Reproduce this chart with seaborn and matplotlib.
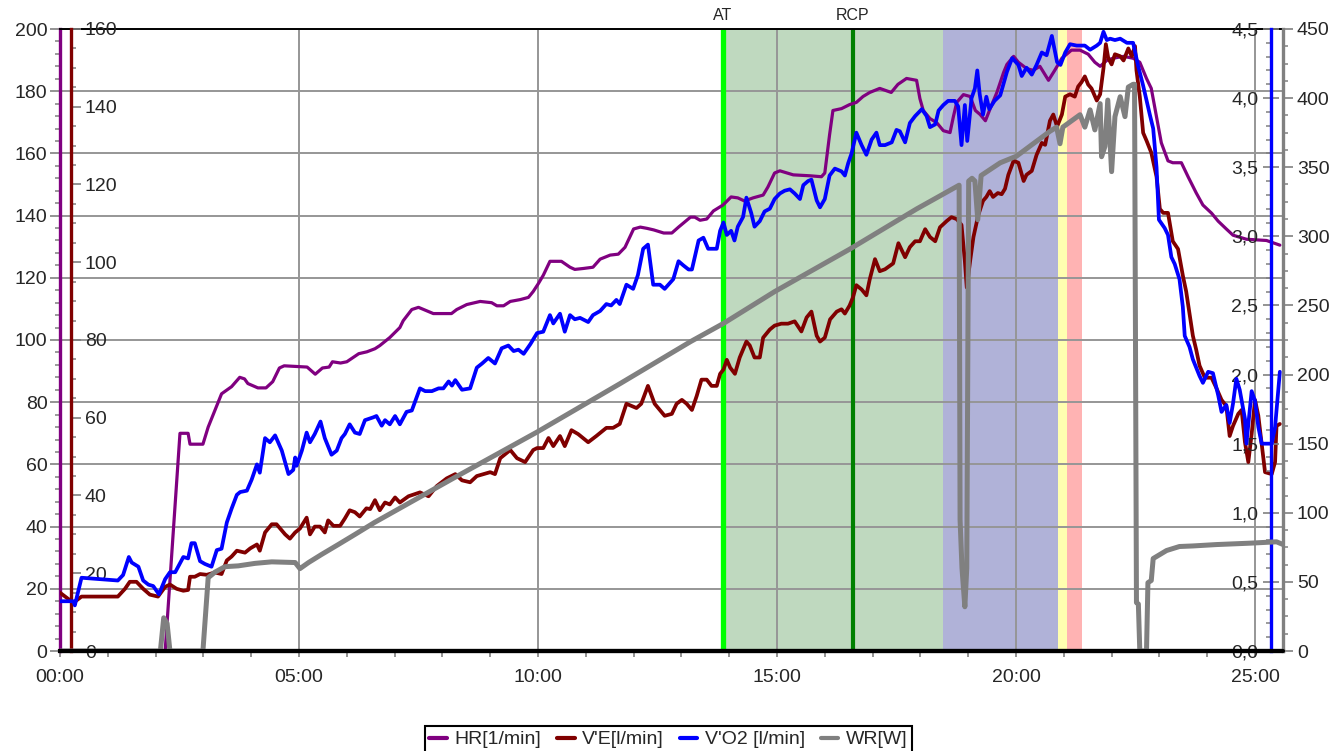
import numpy as np
import matplotlib
matplotlib.use("Agg")
import matplotlib.pyplot as plt
import matplotlib.transforms as mtransforms
from matplotlib.lines import Line2D
from matplotlib.ticker import MultipleLocator, FuncFormatter
import seaborn as sns

# ---------------- data (time in minutes) ----------------
hr_t = [0, 2.2, 2.51, 2.68, 2.72, 2.99, 3.1, 3.38, 3.59, 3.76, 3.86, 3.93, 4.14, 4.31, 4.45, 4.59,
        4.69, 5.17, 5.34, 5.49, 5.63, 5.7, 5.87, 6.0, 6.25, 6.42, 6.59, 6.69, 6.9, 7.11, 7.18, 7.36,
        7.5, 7.81, 8.19, 8.3, 8.51, 8.79, 9.03, 9.14, 9.28, 9.42, 9.63, 9.8, 9.9, 10.01, 10.11,
        10.25, 10.49, 10.67, 10.77, 10.95, 11.15, 11.3, 11.51, 11.68, 11.82, 12.0, 12.14, 12.28,
        12.42, 12.63, 12.8, 12.94, 13.19, 13.28, 13.39, 13.53, 13.67, 13.87, 14.04, 14.18, 14.32,
        14.5, 14.71, 14.81, 14.95, 15.06, 15.34, 15.69, 15.93, 16.0, 16.1, 16.17, 16.35, 16.52,
        16.66, 16.8, 16.94, 17.15, 17.39, 17.53, 17.71, 17.92, 17.99, 18.06, 18.2, 18.34, 18.48,
        18.62, 18.69, 18.76, 18.9, 19.04, 19.15, 19.25, 19.36, 19.46, 19.6, 19.74, 19.81, 19.95,
        20.05, 20.22, 20.36, 20.5, 20.68, 20.81, 20.96, 21.16, 21.34, 21.51, 21.65, 21.76, 21.9,
        22.03, 22.25, 22.45, 22.59, 22.73, 22.83, 22.94, 23.04, 23.18, 23.28, 23.46, 23.6, 23.77,
        23.91, 24.09, 24.23, 24.4, 24.54, 24.82, 25.24, 25.52]
hr_v = [0, 0, 70, 70, 66.5, 66.5, 72, 82.7, 85, 88, 87.5, 86, 84.6, 84.6, 86.6, 91,
        91.7, 91.3, 89, 91, 91.3, 93, 92.6, 93, 95.6, 96.2, 97.2, 98.2, 100.8, 104, 106.2, 109.8,
        110.5, 108.5, 108.5, 109.8, 111.4, 112.4, 112, 111, 111, 112.4, 113, 113.7, 115.6, 118.2, 120.8,
        125.3, 125.3, 123.4, 122.7, 123, 123.4, 126, 127.3, 127.6, 129.8, 135.7, 136.3, 135.9,
        135.4, 134.4, 134.4, 136.3, 139.5, 139.5, 138.5, 138.9, 141.5, 143.4, 146, 145.7, 144.7,
        145.7, 146.6, 149.2, 153.7, 154.4, 153.1, 152.8, 152.5, 153.7, 166, 173.8, 174.4, 175.7,
        176.4, 178.3, 179.6, 180.9, 179.6, 182.2, 184.1, 183.5, 177.6, 173.8, 171.2, 169.9, 167.3,
        166.7, 171.8, 176.4, 178.9, 178.3, 173.8, 172.5, 170.5, 174.4, 179.6, 186, 188.6, 191.2,
        189.3, 187.3, 186.7, 188, 183.5, 186.7, 190.6, 193.2, 193.2, 191.9, 189.3, 188, 189.9,
        190.6, 191.2, 190.6, 189.3, 184.1, 180.9, 171.8, 163.4, 157.6, 157, 157, 152.5, 147.3,
        143.4, 140.8, 138.2, 135.7, 133.7, 132.4, 132, 130.5]

ve_t = [0, 0.28, 0.45, 1.21, 1.36, 1.46, 1.6, 1.74, 1.88, 2.05, 2.2, 2.3, 2.44, 2.58, 2.68, 2.72,
        2.82, 2.93, 3.07, 3.24, 3.38, 3.49, 3.59, 3.7, 3.87, 3.98, 4.12, 4.18, 4.29, 4.43, 4.53,
        4.71, 4.81, 4.92, 5.02, 5.16, 5.23, 5.33, 5.44, 5.54, 5.61, 5.72, 5.86, 5.96, 6.06, 6.17,
        6.27, 6.41, 6.49, 6.59, 6.69, 6.8, 6.9, 7.01, 7.11, 7.29, 7.53, 7.71, 7.88, 8.09, 8.27,
        8.41, 8.58, 8.72, 9.0, 9.1, 9.21, 9.42, 9.56, 9.73, 9.9, 9.98, 10.11, 10.22, 10.32, 10.46,
        10.56, 10.7, 10.84, 11.05, 11.22, 11.43, 11.57, 11.71, 11.85, 12.06, 12.16, 12.3, 12.44,
        12.65, 12.8, 12.9, 13.01, 13.11, 13.22, 13.32, 13.42, 13.53, 13.63, 13.74, 13.81, 13.88,
        13.95, 14.02, 14.12, 14.22, 14.36, 14.43, 14.53, 14.64, 14.71, 14.85, 14.95, 15.09, 15.23,
        15.37, 15.51, 15.62, 15.72, 15.83, 15.9, 16.0, 16.11, 16.25, 16.35, 16.42, 16.52, 16.59,
        16.66, 16.77, 16.87, 16.94, 17.05, 17.15, 17.26, 17.43, 17.54, 17.68, 17.78, 17.89, 17.99,
        18.1, 18.2, 18.31, 18.41, 18.55, 18.65, 18.76, 18.86, 18.93, 18.97, 19.04, 19.11, 19.21,
        19.31, 19.38, 19.45, 19.52, 19.62, 19.7, 19.77, 19.84, 19.95, 20.05, 20.16, 20.22, 20.33,
        20.43, 20.54, 20.61, 20.71, 20.78, 20.86, 20.96, 21.03, 21.13, 21.23, 21.3, 21.37, 21.44,
        21.51, 21.58, 21.69, 21.76, 21.83, 21.88, 21.93, 22.0, 22.07, 22.18, 22.25, 22.35, 22.42,
        22.49, 22.52, 22.59, 22.66, 22.73, 22.83, 22.94, 23.01, 23.08, 23.18, 23.28, 23.39, 23.49,
        23.56, 23.63, 23.7, 23.77, 23.84, 23.95, 24.09, 24.19, 24.3, 24.4, 24.47, 24.54, 24.65,
        24.72, 24.79, 24.86, 24.93, 25.0, 25.07, 25.14, 25.21, 25.35, 25.42, 25.45, 25.52]
ve_v = [15.0, 12.4, 14.0, 14.0, 16.0, 17.8, 17.8, 16.0, 14.5, 14.0, 16.5, 17.1, 16.0, 15.5, 15.7, 19.1,
        19.1, 19.8, 19.6, 20.2, 19.8, 23.3, 24.3, 25.8, 25.3, 26.4, 27.4, 25.8, 30.5, 32.6, 32.6,
        30.0, 28.9, 30.5, 31.5, 34.3, 30.0, 32.0, 32.0, 30.5, 33.6, 32.2, 32.2, 34.1, 36.2, 35.7,
        34.6, 36.7, 36.5, 38.8, 36.2, 38.2, 37.7, 39.5, 38.2, 39.8, 40.8, 39.8, 42.4, 44.4, 45.5,
        43.9, 43.4, 45.0, 46.0, 45.5, 49.6, 51.7, 49.6, 48.6, 51.7, 52.2, 52.2, 54.8, 52.7, 55.3,
        52.7, 56.8, 55.8, 53.7, 55.3, 57.4, 57.4, 58.4, 63.6, 62.5, 63.6, 68.2, 63.6,
        60.5, 61.0, 63.6, 64.6, 63.6, 62.0, 65.6, 69.8, 69.8, 68.2, 68.2, 71.3, 72.4,
        74.9, 72.9, 71.3, 75.5, 79.6, 78.6, 75.5, 75.5, 80.6, 82.7, 83.7, 84.2, 84.2,
        84.8, 82.2, 85.8, 87.3, 81.1, 79.6, 80.6, 85.3, 87.3, 87.9, 86.8, 88.9, 91.0,
        94.1, 93.0, 91.5, 95.6, 100.8, 97.7, 98.2, 99.7, 104.9, 101.3, 103.9, 105.4, 105.4,
        108.5, 106.5, 105.4, 109.0, 110.6, 111.6, 111.1, 109.6, 100.3, 93.5, 100.3, 106.5, 112.1,
        115.8, 116.8, 118.3, 116.8, 117.8, 117.5, 118.9, 122.5, 126.1, 125.6, 120.9, 122.5, 123.5,
        127.6, 130.7, 130.2, 136.4, 138.0, 134.9, 138.0, 142.6, 143.2, 142.6, 145.2, 146.3, 147.8,
        145.7, 144.7, 141.6, 143.2, 149.9, 156.1, 152.5, 150.9, 153.5, 153.0, 151.9, 155.0, 153.0,
        155.6, 149.4, 142.6, 133.3, 131.3, 128.2, 122.0, 113.7, 112.7, 112.7, 105.4, 103.4, 96.6,
        92.5, 86.8, 81.1, 77.5, 73.4, 70.3, 70.3, 67.7, 64.6, 63.0, 55.3, 57.9, 61.0,
        62.0, 53.7, 48.6, 55.8, 64.6, 60.5, 53.2, 46.0, 45.5, 48.6, 57.9, 58.4]

vo2_t = [0, 0.28, 0.31, 0.45, 1.21, 1.32, 1.44, 1.5, 1.64, 1.74, 1.85, 1.95, 2.07, 2.2, 2.3, 2.41,
         2.58, 2.68, 2.75, 2.82, 2.93, 3.03, 3.17, 3.28, 3.38, 3.49, 3.59, 3.7, 3.77, 3.91, 4.01,
         4.12, 4.18, 4.29, 4.39, 4.5, 4.64, 4.78, 4.88, 4.92, 4.95, 5.06, 5.16, 5.23, 5.33, 5.45,
         5.54, 5.68, 5.79, 5.89, 5.96, 6.06, 6.17, 6.27, 6.38, 6.55, 6.62, 6.73, 6.8, 6.9, 7.01,
         7.11, 7.25, 7.36, 7.53, 7.64, 7.78, 7.92, 8.02, 8.13, 8.2, 8.27, 8.41, 8.58, 8.72, 8.83,
         8.96, 9.1, 9.24, 9.38, 9.49, 9.59, 9.7, 9.84, 9.98, 10.11, 10.25, 10.32, 10.46, 10.56,
         10.67, 10.77, 10.88, 11.05, 11.15, 11.3, 11.43, 11.53, 11.64, 11.71, 11.85, 11.99, 12.09,
         12.2, 12.3, 12.41, 12.55, 12.65, 12.83, 12.94, 13.04, 13.15, 13.22, 13.36, 13.46, 13.56,
         13.74, 13.81, 13.88, 13.95, 14.04, 14.11, 14.18, 14.29, 14.36, 14.46, 14.53, 14.64, 14.74,
         14.85, 14.95, 15.06, 15.16, 15.27, 15.37, 15.48, 15.55, 15.65, 15.72, 15.83, 15.9, 16.0,
         16.1, 16.21, 16.35, 16.42, 16.49, 16.56, 16.66, 16.77, 16.87, 16.98, 17.08, 17.15, 17.26,
         17.4, 17.5, 17.57, 17.68, 17.78, 17.89, 18.03, 18.13, 18.2, 18.31, 18.38, 18.48, 18.58,
         18.72, 18.79, 18.86, 18.93, 18.98, 19.07, 19.14, 19.19, 19.24, 19.31, 19.38, 19.44, 19.55,
         19.67, 19.81, 19.92, 20.05, 20.12, 20.22, 20.33, 20.43, 20.54, 20.64, 20.75, 20.86, 20.93,
         21.03, 21.13, 21.27, 21.44, 21.55, 21.69, 21.76, 21.83, 21.9, 21.97, 22.07, 22.18, 22.32,
         22.45, 22.55, 22.66, 22.8, 22.87, 22.94, 22.99, 23.11, 23.18, 23.25, 23.32, 23.42, 23.49,
         23.53, 23.63, 23.7, 23.84, 23.91, 24.02, 24.12, 24.23, 24.3, 24.4, 24.47, 24.54, 24.61,
         24.68, 24.79, 24.82, 24.93, 25.0, 25.07, 25.14, 25.35, 25.42, 25.52]
vo2_v = [0.36, 0.36, 0.33, 0.53, 0.51, 0.55, 0.68, 0.64, 0.61, 0.51, 0.48, 0.47, 0.41, 0.52, 0.57, 0.57,
         0.68, 0.67, 0.78, 0.78, 0.65, 0.63, 0.61, 0.73, 0.74, 0.93, 1.03, 1.13, 1.15, 1.16, 1.24,
         1.35, 1.29, 1.54, 1.51, 1.56, 1.45, 1.28, 1.31, 1.40, 1.34, 1.45, 1.58, 1.51, 1.57, 1.66,
         1.54, 1.42, 1.45, 1.54, 1.57, 1.64, 1.58, 1.57, 1.67, 1.69, 1.70, 1.63, 1.67, 1.64, 1.70,
         1.64, 1.73, 1.74, 1.90, 1.88, 1.88, 1.90, 1.90, 1.95, 1.92, 1.96, 1.89, 1.90, 2.05, 2.08,
         2.12, 2.08, 2.19, 2.21, 2.17, 2.18, 2.15, 2.22, 2.30, 2.31, 2.43, 2.37, 2.44, 2.31,
         2.43, 2.40, 2.41, 2.38, 2.43, 2.46, 2.51, 2.50, 2.54, 2.51, 2.65, 2.62, 2.72,
         2.91, 2.94, 2.65, 2.65, 2.62, 2.69, 2.82, 2.79, 2.76, 2.76, 2.97, 2.99, 2.91,
         2.91, 3.04, 3.10, 3.01, 3.04, 2.97, 3.07, 3.14, 3.28, 3.17, 3.07, 3.11, 3.18,
         3.20, 3.27, 3.31, 3.33, 3.34, 3.31, 3.27, 3.37, 3.40, 3.41, 3.26, 3.21, 3.27,
         3.44, 3.49, 3.47, 3.44, 3.53, 3.60, 3.75, 3.66, 3.59, 3.70, 3.75, 3.66, 3.66,
         3.68, 3.77, 3.76, 3.68, 3.82, 3.87, 3.92, 3.87, 3.79, 3.81, 3.91, 3.95, 3.98,
         3.98, 3.94, 3.66, 3.95, 3.69, 4.00, 4.07, 4.20, 4.03, 3.88, 4.01, 3.92, 3.98,
         4.02, 4.19, 4.29, 4.24, 4.16, 4.22, 4.17, 4.24, 4.33, 4.31, 4.45, 4.26, 4.24,
         4.33, 4.39, 4.38, 4.38, 4.35, 4.38, 4.40, 4.48, 4.42, 4.43, 4.42, 4.43, 4.40,
         4.40, 4.24, 4.09, 3.88, 3.78, 3.50, 3.12, 3.06, 3.01, 2.85, 2.80, 2.69, 2.49,
         2.28, 2.20, 2.11, 1.99, 1.94, 2.02, 2.01, 1.85, 1.73, 1.78, 1.65, 1.79, 1.97,
         1.89, 1.68, 1.50, 1.88, 1.81, 1.62, 1.50, 1.50, 1.62, 2.02]

wr_t = [0, 2.1, 2.17, 2.24, 2.3, 2.99, 3.1, 3.24, 3.45, 3.73, 4.08, 4.43, 4.92, 5.02, 5.2, 5.47,
        5.82, 6.17, 6.58, 8.23, 9.98, 11.71, 13.19, 13.88, 14.95, 16.52, 17.92, 18.81, 18.83,
        18.87, 18.93, 18.97, 19.01, 19.08, 19.14, 19.2, 19.27, 19.67, 20.01, 20.71, 20.85, 20.92,
        20.98, 21.34, 21.44, 21.55, 21.65, 21.76, 21.79, 21.86, 21.92, 22.0, 22.07, 22.18, 22.28,
        22.35, 22.45, 22.48, 22.52, 22.56, 22.59, 22.73, 22.76, 22.83, 22.87, 23.01, 23.15, 23.42,
        23.7, 24.19, 24.89, 25.45, 25.59]
wr_v = [0, 0, 24, 20, 0, 0, 53, 57, 61, 61.6, 63.4, 64.5, 64, 59.6, 64, 69.8,
        77, 84.3, 93, 125, 158.4, 193.3, 223.8, 237, 260, 290.7, 319.8, 337, 95,
        60, 32, 60, 340, 342, 340, 312, 344, 353.2, 358, 376, 379, 367,
        379, 388, 379, 391.5, 377, 396, 357.6, 365, 398.6, 346.8, 386.6, 401, 386.6,
        408, 410, 410, 35, 34, 0, 0, 49.4, 51, 66.9, 69.8, 72.7, 75.6,
        76, 77, 78, 79, 77]

# threshold markers and test phases
at_time = 13.87
rcp_time = 16.58
phase_start = [13.87, 18.47, 20.88, 21.07]
phase_end = [18.47, 20.88, 21.07, 21.38]
phase_color = ["#bfd9bf", "#b0b2d8", "#ffffb0", "#ffb3b3"]

series_labels = ["HR[1/min]", "V'E[l/min]", "V'O2 [l/min]", "WR[W]"]
series_colors = ["#800080", "#800000", "#0000ff", "#808080"]

# ---------------- style ----------------
sns.set_theme(style="white")
plt.rcParams["font.family"] = ["Liberation Sans", "DejaVu Sans"]
plt.rcParams["font.size"] = 14

W, H = 1337, 751
fig = plt.figure(figsize=(W / 100, H / 100), dpi=100)
L, R, T, B = 60, 1283, 29, 651
ax = fig.add_axes([L / W, 1 - B / H, (R - L) / W, (B - T) / H])
x_max = (R - L) / 47.8

ax_ve = ax.twinx()
ax_vo2 = ax.twinx()
ax_wr = ax.twinx()

grid_col = "#969696"
tick_col = "#808080"

# phase shading, threshold lines
for s, e, c in zip(phase_start, phase_end, phase_color):
    ax.axvspan(s, e, color=c, lw=0, zorder=0.1)
ax.axvline(at_time, color="#00ff00", lw=3.8, zorder=0.8)
ax.axvline(rcp_time, color="#008000", lw=3.0, zorder=0.8)
trans = mtransforms.blended_transform_factory(ax.transData, ax.transAxes)
ax.text(at_time, 1.009, "AT", transform=trans, ha="center", va="bottom", fontsize=11.5)
ax.text(rcp_time, 1.009, "RCP", transform=trans, ha="center", va="bottom", fontsize=11.5)

# series
sns.lineplot(x=hr_t, y=hr_v, ax=ax, color=series_colors[0], lw=2.3,
             estimator=None, sort=False, zorder=2)
sns.lineplot(x=ve_t, y=ve_v, ax=ax_ve, color=series_colors[1], lw=2.7,
             estimator=None, sort=False)
sns.lineplot(x=vo2_t, y=vo2_v, ax=ax_vo2, color=series_colors[2], lw=2.7,
             estimator=None, sort=False)
sns.lineplot(x=wr_t, y=wr_v, ax=ax_wr, color=series_colors[3], lw=3.6,
             estimator=None, sort=False)
ax_wr.axhline(0, color="black", lw=3, zorder=6, clip_on=False)

# limits
ax.set_xlim(0, x_max)
ax.set_ylim(0, 200)
ax_ve.set_ylim(0, 160)
ax_vo2.set_ylim(0, 4.5)
ax_wr.set_ylim(0, 450)
for a in (ax, ax_ve, ax_vo2, ax_wr):
    a.set_xlabel("")
    a.set_ylabel("")

# grid
ax.set_axisbelow(True)
ax.xaxis.set_major_locator(MultipleLocator(5))
ax.xaxis.set_minor_locator(MultipleLocator(1))
ax.grid(True, which="major", color=grid_col, lw=1.4)
ax.xaxis.set_major_formatter(FuncFormatter(lambda v, p: f"{int(round(v)):02d}:00"))
ax.tick_params(axis="x", which="both", direction="out", length=4, width=1.2,
               color=tick_col, bottom=True, pad=9, labelsize=14)

# HR axis (left, outer)
ax.yaxis.set_major_locator(MultipleLocator(20))
ax.yaxis.set_minor_locator(MultipleLocator(4))
ax.tick_params(axis="y", which="major", left=True, length=7, width=1.2, color=tick_col,
               pad=2, labelsize=14)
ax.tick_params(axis="y", which="minor", left=True, length=3.5, width=1.1, color=tick_col)
ax.spines["left"].set_color(series_colors[0])
ax.spines["left"].set_linewidth(2.4)
ax.spines["right"].set_visible(False)
ax.spines["top"].set_color("black")
ax.spines["top"].set_linewidth(1.4)
ax.spines["bottom"].set_color("black")
ax.spines["bottom"].set_linewidth(3)

for a in (ax_ve, ax_vo2, ax_wr):
    for sp in a.spines.values():
        sp.set_visible(False)
    a.grid(False)

# V'E axis (left, inner; labels to the right of its line)
ax_ve.spines["right"].set_visible(True)
ax_ve.spines["right"].set_position(("axes", 11 / (R - L)))
ax_ve.spines["right"].set_color(series_colors[1])
ax_ve.spines["right"].set_linewidth(2.4)
ax_ve.yaxis.set_major_locator(MultipleLocator(20))
ax_ve.yaxis.set_minor_locator(MultipleLocator(5))
ax_ve.tick_params(axis="y", which="major", right=True, length=7, width=1.2, color=tick_col,
                  pad=3, labelsize=14)
ax_ve.tick_params(axis="y", which="minor", right=True, length=3.5, width=1.1, color=tick_col)

# V'O2 axis (right, inner; labels to the left of its line)
ax_vo2.yaxis.tick_left()
ax_vo2.spines["left"].set_visible(True)
ax_vo2.spines["left"].set_position(("axes", (1271 - L) / (R - L)))
ax_vo2.spines["left"].set_color(series_colors[2])
ax_vo2.spines["left"].set_linewidth(2.4)
ax_vo2.yaxis.set_major_locator(MultipleLocator(0.5))
ax_vo2.yaxis.set_minor_locator(MultipleLocator(0.1))
ax_vo2.yaxis.set_major_formatter(FuncFormatter(lambda v, p: f"{v:.1f}".replace(".", ",")))
ax_vo2.tick_params(axis="y", which="major", left=True, direction="inout", length=12,
                   width=1.2, color=tick_col, pad=3, labelsize=14)
ax_vo2.tick_params(axis="y", which="minor", left=True, length=3.5, width=1.1, color=tick_col)

# WR axis (right, outer)
ax_wr.spines["right"].set_visible(True)
ax_wr.spines["right"].set_color(series_colors[3])
ax_wr.spines["right"].set_linewidth(2.4)
ax_wr.yaxis.set_major_locator(MultipleLocator(50))
ax_wr.yaxis.set_minor_locator(MultipleLocator(12.5))
ax_wr.tick_params(axis="y", which="major", right=True, length=7, width=1.2, color=tick_col,
                  pad=3, labelsize=14)
ax_wr.tick_params(axis="y", which="minor", right=True, length=3.5, width=1.1, color=tick_col)

# legend below the plot
handles = [Line2D([0], [0], color=c, lw=3) for c in series_colors]
leg = fig.legend(handles, series_labels, loc="upper center",
                 bbox_to_anchor=(668.5 / W, 1 - 726 / H), borderaxespad=0, ncol=4,
                 frameon=True, fancybox=False, edgecolor="black", framealpha=1,
                 borderpad=0.25, handlelength=0.9, handletextpad=0.4, columnspacing=0.8,
                 prop={"family": ["Liberation Sans Narrow", "Liberation Sans"], "size": 14})
leg.get_frame().set_linewidth(1.5)

fig.savefig("out.png", dpi=100)
